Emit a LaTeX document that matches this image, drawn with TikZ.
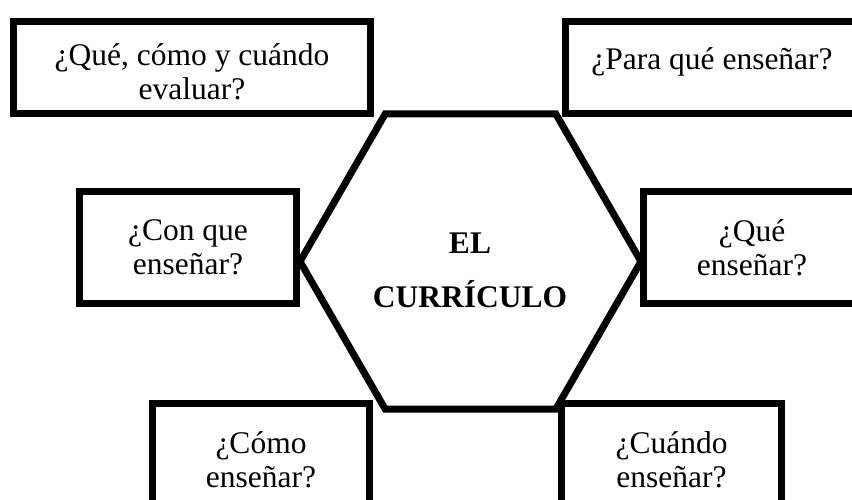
\documentclass[tikz,border=0pt]{standalone}
\usepackage{fontspec}
\setmainfont{Liberation Serif}
\usetikzlibrary{shapes.geometric}

\begin{document}
\begin{tikzpicture}[x=1pt,y=-1pt,
  pregunta/.style={draw,line width=7pt,rectangle,align=center,inner sep=0pt,
    minimum width=217pt,minimum height=112pt,font=\fontsize{31.5}{34}\selectfont}]

\useasboundingbox (0,0) rectangle (852,499);

\node (curriculo) at (470.5,261.5) [draw,line width=7pt,regular polygon,
  regular polygon sides=6,minimum size=341pt,inner sep=0pt] {};
\node (titulo) at (470,270.5) [align=center,
  font=\fontsize{31.5}{34}\selectfont\bfseries] {EL\\[20pt]CURRÍCULO};

\node (evaluar) at (192,67.5) [pregunta,minimum width=357pt,minimum height=92pt,
  text height=65pt] {¿Qué, cómo y cuándo\\evaluar?};
\node (para) at (712,67.5) [pregunta,minimum width=293pt,minimum height=92pt,
  text height=21pt,text depth=18pt] {¿Para qué enseñar?};

\node (conque) at (188,247.5) [pregunta] {¿Con que\\enseñar?};
\node (que) at (752,247.5) [pregunta] {¿Qué\\enseñar?};

\node (como) at (261,459.5) [pregunta] {¿Cómo\\enseñar?};
\node (cuando) at (671.5,459.5) [pregunta,minimum width=220pt] {¿Cuándo\\enseñar?};

\end{tikzpicture}
\end{document}
